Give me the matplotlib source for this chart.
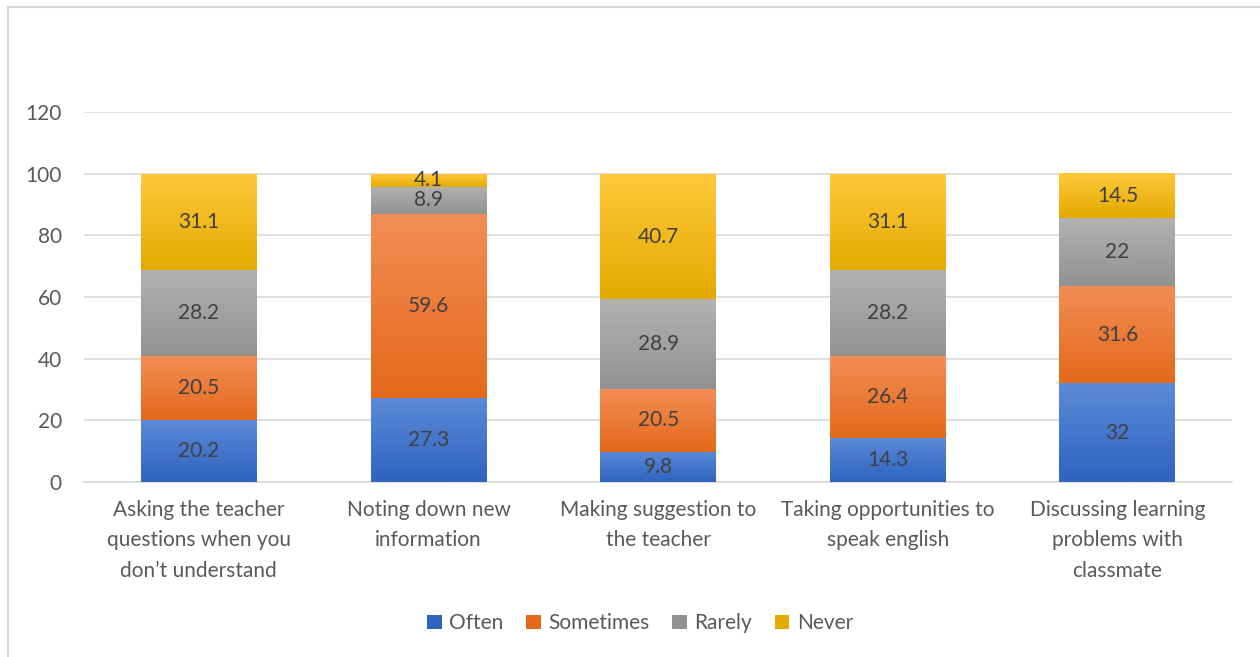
import matplotlib.pyplot as plt
import numpy as np
from matplotlib.colors import LinearSegmentedColormap
from matplotlib.lines import Line2D

categories = ["Asking the teacher\nquestions when you\ndon\u2019t understand",
              "Noting down new\ninformation",
              "Making suggestion to\nthe teacher",
              "Taking opportunities to\nspeak english",
              "Discussing learning\nproblems with\nclassmate"]
often = [20.2, 27.3, 9.8, 14.3, 32]
sometimes = [20.5, 59.6, 20.5, 26.4, 31.6]
rarely = [28.2, 8.9, 28.9, 28.2, 22]
never = [31.1, 4.1, 40.7, 31.1, 14.5]
series_names = ["Often", "Sometimes", "Rarely", "Never"]

# (top colour, bottom colour) for the gradient fill
grads = [("#5C8AD8", "#2E63C0"),
         ("#F38D55", "#E4691B"),
         ("#B2B2B2", "#929292"),
         ("#FFC83A", "#E3AA00")]

plt.rcParams['font.family'] = ['Lato', 'DejaVu Sans']
fs = 15

fig = plt.figure(figsize=(12.6, 6.57), dpi=100)
ax = fig.add_axes([0.0667, 0.2664, 0.9113, 0.5631])

x = np.arange(len(categories))
bottom = np.zeros(len(categories))
handles = []
for vals, name, (c_top, c_bot) in zip([often, sometimes, rarely, never], series_names, grads):
    bars = ax.bar(x, vals, 0.505, bottom=bottom, color=c_bot, zorder=2, label=name)
    cmap = LinearSegmentedColormap.from_list(name, [c_bot, c_top])
    for b in bars:
        x0, y0 = b.get_x(), b.get_y()
        w, h = b.get_width(), b.get_height()
        im = ax.imshow(np.linspace(0, 1, 64).reshape(-1, 1), cmap=cmap, origin='lower',
                       extent=[x0, x0 + w, y0, y0 + h], aspect='auto', zorder=3)
        im.set_clip_path(b)
    for xi, v, bt in zip(x, vals, bottom):
        ax.text(xi, bt + v / 2, f"{v:g}", ha='center', va='center',
                fontsize=fs, color='#404040', zorder=4)
    bottom += np.array(vals)
    handles.append(bars)

ax.set_xlim(-0.5, len(categories) - 0.5)
ax.set_ylim(0, 120)
ax.set_yticks(range(0, 121, 20))
ax.set_xticks(x)
ax.set_xticklabels(categories, fontsize=fs, color='#595959', linespacing=1.65)
ax.tick_params(axis='y', labelsize=fs, labelcolor='#595959', length=0, pad=16)
ax.tick_params(axis='x', length=0, pad=13)
ax.grid(axis='y', color='#D9D9D9', linewidth=1.2, zorder=0)
ax.set_axisbelow(True)
for s in ['top', 'right', 'left']:
    ax.spines[s].set_visible(False)
ax.spines['bottom'].set_color('#D9D9D9')
ax.spines['bottom'].set_linewidth(1.2)

leg = fig.legend(handles, series_names, loc='center', bbox_to_anchor=(0.508, 0.051),
                 ncol=4, frameon=False, fontsize=fs, handlelength=0.7, handleheight=0.7,
                 handletextpad=0.35, columnspacing=1.1)
for t in leg.get_texts():
    t.set_color('#595959')

# chart border (top and left edges visible)
fig.add_artist(Line2D([8 / 1260, 1], [1 - 7 / 657, 1 - 7 / 657], color='#D9D9D9', linewidth=1.5))
fig.add_artist(Line2D([8 / 1260, 8 / 1260], [0, 1 - 7 / 657], color='#D9D9D9', linewidth=1.5))

fig.savefig("out.png", dpi=100)
